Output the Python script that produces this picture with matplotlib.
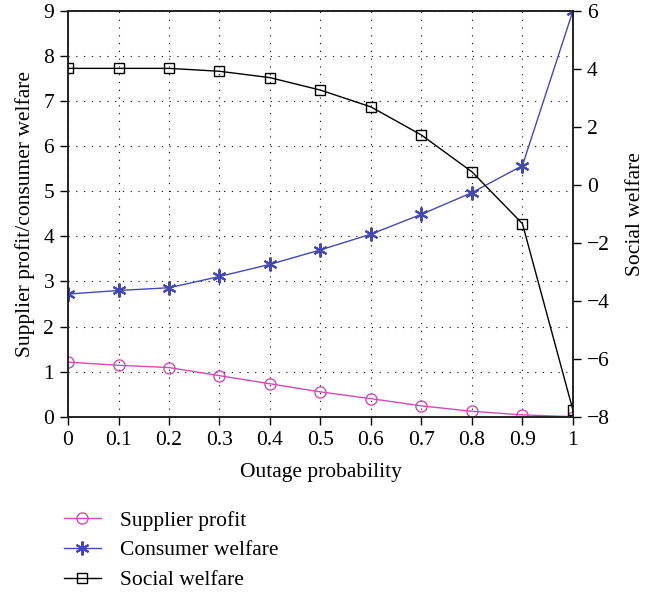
import matplotlib
matplotlib.use("Agg")
import matplotlib.pyplot as plt

# data
outage = [0, 0.1, 0.2, 0.3, 0.4, 0.5, 0.6, 0.7, 0.8, 0.9, 1.0]
supplier_profit = [1.21, 1.14, 1.09, 0.91, 0.73, 0.55, 0.40, 0.24, 0.12, 0.04, 0.0]
consumer_welfare = [2.72, 2.80, 2.86, 3.11, 3.38, 3.70, 4.05, 4.49, 4.97, 5.57, 9.0]
social_welfare = [4.02, 4.02, 4.02, 3.92, 3.70, 3.27, 2.69, 1.72, 0.45, -1.34, -7.77]

x_ticks = [0, 0.1, 0.2, 0.3, 0.4, 0.5, 0.6, 0.7, 0.8, 0.9, 1]
x_labels = ['0', '0.1', '0.2', '0.3', '0.4', '0.5', '0.6', '0.7', '0.8', '0.9', '1']
left_ticks = list(range(0, 10))
right_ticks = [-8, -6, -4, -2, 0, 2, 4, 6]
right_labels = ['\u22128', '\u22126', '\u22124', '\u22122', '0', '2', '4', '6']

plt.rcParams['font.family'] = ['Liberation Serif', 'DejaVu Serif']
plt.rcParams['font.size'] = 15.5

fig = plt.figure(figsize=(6.54, 5.94), dpi=100)
ax = fig.add_axes([0.104, 0.2985, 0.772, 0.683])
ax2 = ax.twinx()

pink = '#d24bb4'
blue = '#4449b2'

l1, = ax.plot(outage, supplier_profit, color=pink, lw=1, marker='o', ms=8,
              mfc='none', mec=pink, label='Supplier profit')
l2, = ax.plot(outage, consumer_welfare, color=blue, lw=1, marker=(6, 2, 0), ms=10,
              mew=1.5, mec=blue, label='Consumer welfare')
l3, = ax2.plot(outage, social_welfare, color='black', lw=1, marker='s', ms=7,
               mfc='none', mec='black', label='Social welfare')

ax.set_xlim(0, 1)
ax.set_ylim(0, 9)
ax2.set_ylim(-8, 6)
ax.set_xticks(x_ticks)
ax.set_xticklabels(x_labels)
ax.set_yticks(left_ticks)
ax2.set_yticks(right_ticks)
ax2.set_yticklabels(right_labels)

ax.grid(True, color='black', linestyle=(0, (1, 6)), linewidth=0.8)
ax.tick_params(direction='out', length=6, width=1, pad=4)
ax2.tick_params(direction='out', length=6, width=1, pad=4)

for a in (ax, ax2):
    for s in a.spines.values():
        s.set_linewidth(1.2)
        s.set_color('#222222')

ax.set_xlabel('Outage probability', labelpad=10)
ax.set_ylabel('Supplier profit/consumer welfare', labelpad=6)
ax2.set_ylabel('Social welfare', labelpad=12)

fig.legend(handles=[l1, l2, l3], loc='upper left', bbox_to_anchor=(0.085, 0.155),
           frameon=False, handlelength=1.7, handletextpad=0.9, labelspacing=0.45,
           borderaxespad=0)

fig.savefig('out.png', dpi=100)
